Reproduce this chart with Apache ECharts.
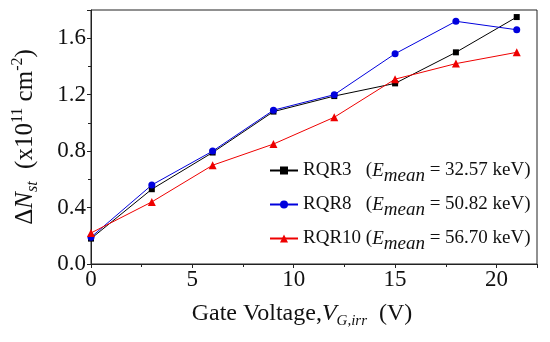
<!DOCTYPE html>
<html>
<head>
<meta charset="utf-8">
<script src="https://cdn.jsdelivr.net/npm/echarts@6/dist/echarts.min.js"></script>
<style>html,body{margin:0;padding:0;background:#fff}#c{width:550px;height:342px}</style>
</head>
<body>
<div id="c"></div>
<script>
const xValues = [0, 3, 6, 9, 12, 15, 18, 21];
const rqr3 = [0.18, 0.53, 0.79, 1.08, 1.19, 1.28, 1.50, 1.75];
const rqr8 = [0.19, 0.56, 0.80, 1.09, 1.20, 1.49, 1.72, 1.66];
const rqr10 = [0.22, 0.44, 0.70, 0.85, 1.04, 1.31, 1.42, 1.50];
const seriesNames = ['RQR3', 'RQR8', 'RQR10'];
const energies = ['32.57', '50.82', '56.70'];

const F = '"Liberation Serif","Times New Roman",serif';
const chart = echarts.init(document.getElementById('c'));
const pair = (ys) => xValues.map((x, i) => [x, ys[i]]);
const base = (name, ys, color, symbol, size) => ({
  name, type: 'line', data: pair(ys), symbol, symbolSize: size,
  lineStyle: {color, width: 1}, itemStyle: {color}, animation: false
});
const richName = (fs, ss) => ({
  t: {fontFamily: F, fontSize: fs, color: '#111', lineHeight: fs + 6},
  i: {fontFamily: F, fontSize: fs, fontStyle: 'italic', color: '#111', lineHeight: fs + 6},
  sub: {fontFamily: F, fontSize: ss, fontStyle: 'italic', color: '#111', verticalAlign: 'bottom', lineHeight: 14},
  sup: {fontFamily: F, fontSize: ss, color: '#111', verticalAlign: 'top', lineHeight: 14}
});
chart.setOption({
  animation: false,
  grid: {left: 91, right: 13, top: 10, bottom: 78, show: true, borderColor: '#222', borderWidth: 1},
  xAxis: {
    type: 'value', min: 0, max: 22, interval: 5,
    axisLine: {lineStyle: {color: '#222'}},
    axisTick: {show: true, inside: false, length: 4, lineStyle: {color: '#222'}},
    minorTick: {show: true, splitNumber: 2, length: 3, lineStyle: {color: '#222'}},
    splitLine: {show: false},
    axisLabel: {fontFamily: F, fontSize: 23, color: '#111', margin: 4, showMaxLabel: false},
    name: '{t|Gate Voltage,}{i|V}{sub|G,irr}{t|  (V)}',
    nameLocation: 'middle', nameGap: 35,
    nameTextStyle: {rich: richName(24, 15), padding: [0, 24, 0, 0]}
  },
  yAxis: {
    type: 'value', min: 0, max: 1.8, interval: 0.4,
    axisLine: {show: true, lineStyle: {color: '#222'}},
    axisTick: {show: true, inside: false, length: 4, lineStyle: {color: '#222'}},
    minorTick: {show: true, splitNumber: 2, length: 3, lineStyle: {color: '#222'}},
    splitLine: {show: false},
    axisLabel: {fontFamily: F, fontSize: 23, color: '#111', margin: 5, showMaxLabel: false,
      formatter: v => v.toFixed(1)},
    name: '{t|Δ}{i|N}{sub|st}{t|  (x10}{sup|11}{t| cm}{sup|-2}{t|)}',
    nameLocation: 'middle', nameGap: 50, nameRotate: 90,
    nameTextStyle: {rich: richName(25, 16)}
  },
  legend: {
    orient: 'vertical', left: 264, top: 151, itemGap: 5,
    itemWidth: 28, itemHeight: 10,
    data: seriesNames,
    formatter: name => {
      const k = seriesNames.indexOf(name);
      const pad = name === 'RQR10' ? ' ' : '   ';
      return '{n|' + name + pad + '(}{i|E}{s|mean}{n| = ' + energies[k] + ' keV)}';
    },
    textStyle: {
      rich: {
        n: {fontFamily: F, fontSize: 19, color: '#111', lineHeight: 22},
        i: {fontFamily: F, fontSize: 19, fontStyle: 'italic', color: '#111', lineHeight: 22},
        s: {fontFamily: F, fontSize: 19, fontStyle: 'italic', color: '#111', lineHeight: 22, padding: [10, 0, 0, 0]}
      }
    }
  },
  series: [
    base('RQR3', rqr3, '#000000', 'rect', 6),
    base('RQR8', rqr8, '#0000dd', 'circle', 7),
    base('RQR10', rqr10, '#ee0000', 'triangle', 8)
  ]
});
</script>
</body>
</html>
